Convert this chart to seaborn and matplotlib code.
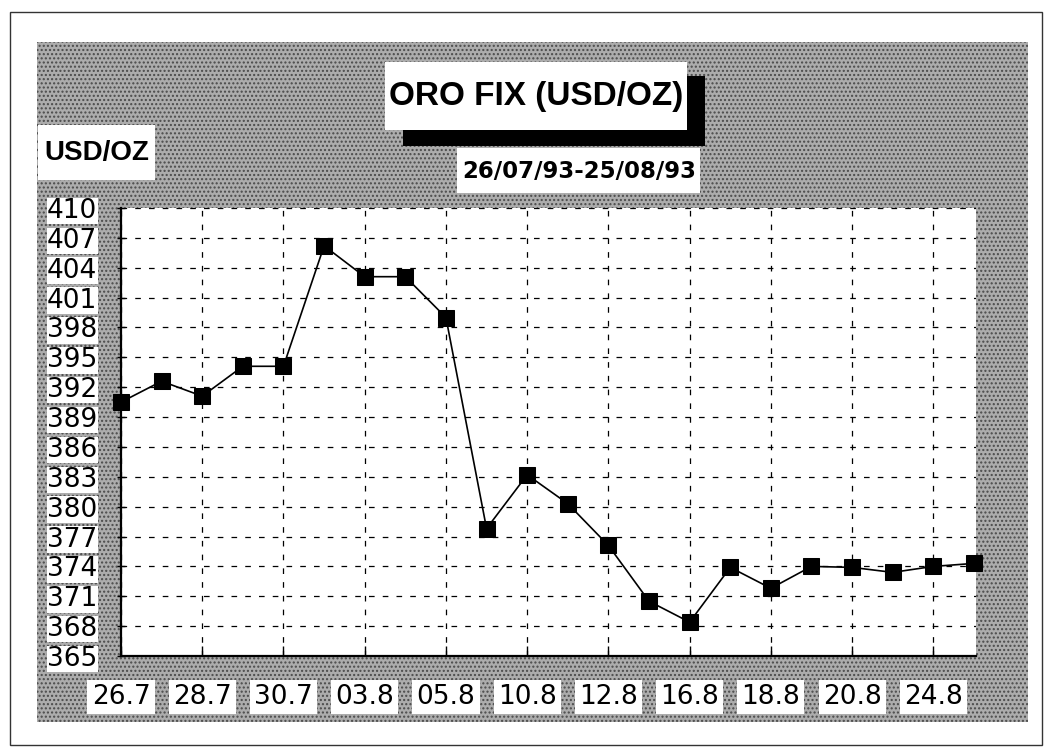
import seaborn as sns
import pandas as pd
import numpy as np
import matplotlib.pyplot as plt
from matplotlib.patches import Rectangle

# dati: fixing dell'oro, 26/07/93 - 25/08/93
prezzi = [390.5, 392.6, 391.1, 394.1, 394.1, 406.2, 403.1, 403.1, 399.0, 377.8,
          383.2, 380.3, 376.1, 370.5, 368.4, 373.9, 371.8, 374.0, 373.9, 373.4,
          374.0, 374.3]
etichette_x = ['26.7', '28.7', '30.7', '03.8', '05.8', '10.8', '12.8', '16.8',
               '18.8', '20.8', '24.8']
tick_y = list(range(365, 411, 3))
titolo = 'ORO FIX (USD/OZ)'
periodo = '26/07/93-25/08/93'
unita = 'USD/OZ'

df = pd.DataFrame({'giorno': np.arange(len(prezzi)), 'prezzo': prezzi})

sns.set_theme(style='white')
plt.rcParams['font.family'] = ['Liberation Sans', 'DejaVu Sans']

fig = plt.figure(figsize=(10.5, 7.49), dpi=100)

# sfondo in coordinate pixel
bg = fig.add_axes([0, 0, 1, 1], zorder=0)
bg.set_xlim(0, 1050)
bg.set_ylim(749, 0)
bg.axis('off')
bg.add_patch(Rectangle((10, 12), 1032, 733, fill=False, ec='#333333', lw=1))
bg.add_patch(Rectangle((37, 42), 991, 680, fc='#acacac', ec='#4a4a4a',
                       lw=0, hatch='....'))
bg.add_patch(Rectangle((403, 76), 302, 70, fc='black', lw=0))
bg.add_patch(Rectangle((385, 62), 302, 68, fc='white', lw=0))
bg.text(536, 97, titolo, ha='center', va='center', fontsize=24,
        fontweight='bold', color='black')
bg.add_patch(Rectangle((457, 148), 243, 45, fc='white', lw=0))
bg.text(579, 171, periodo, ha='center', va='center', fontsize=16.5,
        fontweight='bold', color='black', family='DejaVu Sans')
bg.add_patch(Rectangle((38, 125), 117, 55, fc='white', lw=0))
bg.text(97, 153, unita, ha='center', va='center', fontsize=20,
        fontweight='bold', color='black')

# grafico
ax = fig.add_axes([121 / 1050, 1 - 656 / 749, (976 - 121) / 1050, (656 - 208) / 749],
                  zorder=1)
ax.set_facecolor('white')
sns.lineplot(data=df, x='giorno', y='prezzo', ax=ax, color='black', lw=1.2,
             marker='s', markersize=12, markeredgecolor='black',
             markerfacecolor='black', clip_on=False, zorder=5)

ax.set_xlim(0, 21.05)
ax.set_ylim(365, 410)
ax.set_xticks(np.arange(0, len(prezzi) - 1, 2))
ax.set_xticklabels(etichette_x)
ax.set_yticks(tick_y)
ax.set_yticklabels([str(v) for v in tick_y])
ax.set_xlabel('')
ax.set_ylabel('')

ax.grid(True, color='black', lw=0.9, ls=(0, (4.5, 6.5)))
for s in ['top', 'right']:
    ax.spines[s].set_visible(False)
for s in ['left', 'bottom']:
    ax.spines[s].set_color('black')
    ax.spines[s].set_linewidth(1.6)

ax.tick_params(axis='y', direction='inout', length=6, width=1, color='black',
               labelsize=19, labelcolor='black', pad=14, left=True)
ax.tick_params(axis='x', direction='in', length=7, width=1, color='black',
               labelsize=19, labelcolor='black', pad=20, bottom=True)

for lbl in ax.get_yticklabels():
    lbl.set_family('DejaVu Sans')
    lbl.set_bbox(dict(fc='white', ec='none', pad=0.2))
for lbl in ax.get_xticklabels():
    lbl.set_family('DejaVu Sans')
    lbl.set_bbox(dict(fc='white', ec='none', pad=3))

fig.savefig('out.png', dpi=100)
